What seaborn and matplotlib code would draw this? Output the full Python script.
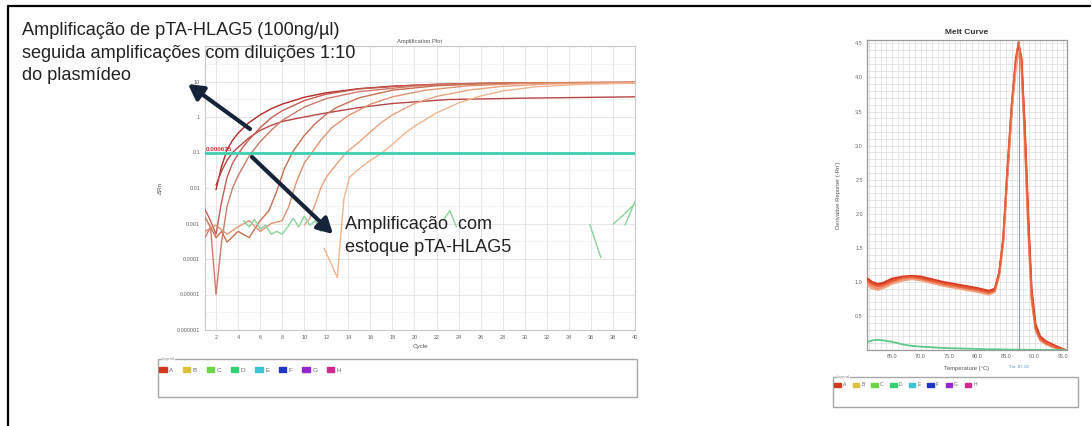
import numpy as np
import pandas as pd
import seaborn as sns
import matplotlib
matplotlib.use("Agg")
import matplotlib.pyplot as plt
from matplotlib.patches import Rectangle, Patch, FancyArrowPatch
from matplotlib.lines import Line2D
from matplotlib.ticker import FixedLocator, FixedFormatter

# ---------------- data: amplification plot ----------------
ampA1_cyc = [2, 2.5, 3, 3.5, 4, 5, 6, 7, 8, 10, 12, 15, 18, 22, 26, 30, 35, 40]
ampA1_val = [0.009, 0.04, 0.12, 0.22, 0.35, 0.7, 1.15, 1.7, 2.3, 3.6, 4.8, 6.3, 7.4, 8.3, 8.8, 9.1, 9.3, 9.4]
ampA2_cyc = [2, 2.5, 3, 3.5, 4, 5, 6, 7, 8, 10, 12, 15, 18, 23, 30, 40]
ampA2_val = [0.012, 0.03, 0.06, 0.1, 0.14, 0.26, 0.42, 0.58, 0.75, 1.0, 1.3, 1.85, 2.4, 3.1, 3.4, 3.7]
ampA3_cyc = [1, 1.5, 2, 2.5, 3, 3.5, 4, 4.5, 5, 6, 7, 8, 10, 12, 15, 20, 25, 30, 40]
ampA3_val = [0.0025, 0.0012, 0.0005, 0.004, 0.02, 0.05, 0.09, 0.15, 0.23, 0.5, 0.95, 1.5, 2.9, 4.4, 6.2, 7.9, 8.8, 9.2, 9.5]
ampA4_cyc = [1, 1.5, 2, 2.5, 3, 3.5, 4, 5, 6, 7, 8, 10, 12, 15, 20, 25, 30, 40]
ampA4_val = [0.0004, 0.0008, 0.00001, 0.0003, 0.003, 0.01, 0.022, 0.08, 0.2, 0.42, 0.8, 1.9, 3.3, 5.2, 7.4, 8.5, 9.0, 9.3]
ampA5_cyc = [1, 1.5, 2, 2.5, 3, 4, 5, 6, 6.8, 7.5, 8.2, 9, 10, 11, 12, 13, 15, 18, 22, 26, 30, 40]
ampA5_val = [0.0015, 0.0008, 0.0004, 0.0006, 0.0003, 0.0006, 0.0004, 0.0012, 0.0023, 0.008, 0.035, 0.11, 0.3,
             0.65, 1.2, 1.9, 3.5, 5.7, 7.6, 8.6, 9.1, 9.4]
ampA6_cyc = [1, 2, 3, 4, 5, 6, 7, 8, 8.6, 9.3, 10, 10.7, 11.5, 12.5, 14, 16, 18, 21, 25, 30, 40]
ampA6_val = [0.0006, 0.0009, 0.0005, 0.0008, 0.0012, 0.0006, 0.001, 0.0012, 0.003, 0.015, 0.05, 0.1, 0.22, 0.5,
             1.1, 2.3, 3.7, 5.7, 7.6, 8.8, 9.3]
ampA7_cyc = [10, 10.5, 11, 11.5, 12, 13, 13.8, 15, 16, 17, 18, 20, 22, 25, 28, 32, 40]
ampA7_val = [0.0009, 0.0014, 0.0035, 0.01, 0.02, 0.05, 0.1, 0.2, 0.38, 0.7, 1.15, 2.4, 3.8, 5.8, 7.3, 8.5, 9.3]
ampA8_cyc = [11.8, 12.4, 13, 13.3, 13.6, 14.1, 15, 16, 17, 18, 19, 20, 22, 24, 26, 28, 31, 35, 40]
ampA8_val = [0.0002, 0.00008, 0.00003, 0.0004, 0.005, 0.02, 0.035, 0.06, 0.095, 0.17, 0.32, 0.55, 1.3, 2.5,
             3.9, 5.4, 7.1, 8.3, 9.0]
green1_cyc = [4.5, 5, 5.5, 6, 6.5, 7, 7.5, 8, 8.5, 9, 9.5, 10, 10.5, 11, 11.5, 12]
green1_val = [0.0012, 0.0008, 0.0013, 0.0007, 0.0009, 0.0005, 0.0006, 0.0005, 0.0008, 0.0014, 0.0008, 0.0016,
              0.0009, 0.0012, 0.0006, 0.0008]
green2_cyc = [22.6, 23.2, 23.8]
green2_val = [0.0012, 0.0023, 0.0008]
green3_cyc = [35.9, 36.9]
green3_val = [0.00095, 0.00011]
green4_cyc = [38.0, 39.0, 39.9]
green4_val = [0.00095, 0.0018, 0.0034]
green5_cyc = [39.1, 40.0]
green5_val = [0.0009, 0.0042]
amp_colors = ["#b52828", "#b84444", "#c85a50", "#d07a6a", "#c8704f", "#e09270", "#e8a27c", "#f0b48c"]
threshold = 0.1
threshold_label = "0.000675"
amp_yticks = [1e-6, 1e-5, 1e-4, 1e-3, 1e-2, 1e-1, 1, 10]
amp_yticklabels = ["0.000001", "0.00001", "0.0001", "0.001", "0.01", "0.1", "1", "10"]
amp_xticks = list(range(2, 41, 2))

# ---------------- data: melt curve ----------------
melt_temp = [60.7, 61.5, 62.5, 63.5, 65, 67, 68.5, 70, 72, 74, 76, 78, 80, 82, 83, 83.8, 84.5, 85.2, 86, 86.7,
             87.2, 87.7, 88.3, 88.9, 89.5, 90.2, 91, 92, 93, 94, 95.5]
melt_a = [1.03, 0.98, 0.95, 0.97, 1.03, 1.07, 1.08, 1.06, 1.02, 0.98, 0.95, 0.92, 0.89, 0.85, 0.89, 1.15, 1.65,
          2.6, 3.6, 4.25, 4.5, 4.25, 3.2, 1.9, 0.8, 0.33, 0.17, 0.1, 0.06, 0.03, 0.0]
melt_b = [0.98, 0.93, 0.90, 0.93, 0.99, 1.04, 1.05, 1.03, 0.99, 0.95, 0.92, 0.89, 0.86, 0.82, 0.86, 1.1, 1.6,
          2.55, 3.55, 4.15, 4.42, 4.2, 3.1, 1.8, 0.75, 0.3, 0.15, 0.09, 0.05, 0.02, 0.0]
melt_c = [1.05, 1.0, 0.97, 0.99, 1.05, 1.08, 1.09, 1.08, 1.04, 1.0, 0.97, 0.94, 0.91, 0.87, 0.9, 1.12, 1.6,
          2.5, 3.5, 4.2, 4.48, 4.3, 3.3, 2.0, 0.9, 0.38, 0.2, 0.13, 0.09, 0.05, 0.0]
melt_d = [0.95, 0.9, 0.88, 0.91, 0.97, 1.02, 1.04, 1.02, 0.98, 0.94, 0.91, 0.88, 0.85, 0.81, 0.85, 1.08, 1.55,
          2.5, 3.5, 4.1, 4.38, 4.15, 3.0, 1.7, 0.7, 0.28, 0.14, 0.08, 0.05, 0.02, 0.0]
melt_e = [1.01, 0.96, 0.93, 0.95, 1.01, 1.06, 1.07, 1.05, 1.01, 0.97, 0.94, 0.91, 0.88, 0.84, 0.87, 1.12, 1.62,
          2.62, 3.62, 4.28, 4.52, 4.28, 3.15, 1.85, 0.78, 0.31, 0.16, 0.1, 0.06, 0.03, 0.0]
melt_green = [0.12, 0.14, 0.15, 0.14, 0.12, 0.08, 0.06, 0.05, 0.04, 0.03, 0.025, 0.02, 0.015, 0.01, 0.01, 0.01,
              0.008, 0.006, 0.005, 0.005, 0.005, 0.004, 0.004, 0.003, 0.003, 0.002, 0.002, 0.001, 0.001, 0.0, 0.0]
melt_colors = ["#e04a28", "#f08a66", "#d83a24", "#f4a07e", "#e8603a"]
melt_tm = 87.2
melt_tm_label = "Tm: 87.18"
melt_xticks = [65, 70, 75, 80, 85, 90, 95]
melt_xticklabels = ["65.0", "70.0", "75.0", "80.0", "85.0", "90.0", "95.0"]
melt_yticks = [0.5, 1.0, 1.5, 2.0, 2.5, 3.0, 3.5, 4.0, 4.5]
melt_yticklabels = ["0.5", "1.0", "1.5", "2.0", "2.5", "3.0", "3.5", "4.0", "4.5"]

# ---------------- legend data ----------------
well_labels = ["A", "B", "C", "D", "E", "F", "G", "H"]
well_colors = ["#d23a1e", "#dcc23a", "#6cd446", "#34d074", "#3cc4d4", "#2234c4", "#9424d4", "#d42890"]

# ---------------- annotation text ----------------
note1_lines = ["Amplificação de pTA-HLAG5 (100ng/µl)", "seguida amplificações com diluições 1:10", "do plasmídeo"]
note2_lines = ["Amplificação  com", "estoque pTA-HLAG5"]

# ---------------- figure ----------------
sns.set_style("white")
plt.rcParams["font.family"] = ["Liberation Sans", "DejaVu Sans"]

W, H = 1092, 426
fig = plt.figure(figsize=(W / 100, H / 100), dpi=100)
fig.patch.set_facecolor("white")


def fx(px):
    return px / W


def fy(py):
    return 1 - py / H


# frame lines
fig.add_artist(Line2D([fx(8), fx(8)], [0, fy(6)], transform=fig.transFigure, color="black", lw=1.6))
fig.add_artist(Line2D([fx(8), fx(1090)], [fy(6), fy(6)], transform=fig.transFigure, color="black", lw=1.6))

# ---------- amplification axes ----------
ax = fig.add_axes([fx(205), fy(330), fx(635) - fx(205), fy(46) - fy(330)])
ax.set_yscale("log")

rows = []
amp_sets = [(ampA1_cyc, ampA1_val), (ampA2_cyc, ampA2_val), (ampA3_cyc, ampA3_val), (ampA4_cyc, ampA4_val),
            (ampA5_cyc, ampA5_val), (ampA6_cyc, ampA6_val), (ampA7_cyc, ampA7_val), (ampA8_cyc, ampA8_val)]
for i, (c, v) in enumerate(amp_sets):
    for cc, vv in zip(c, v):
        rows.append({"cycle": cc, "dRn": vv, "curve": f"A{i+1}", "seg": f"A{i+1}"})
green_sets = [(green1_cyc, green1_val), (green2_cyc, green2_val), (green3_cyc, green3_val),
              (green4_cyc, green4_val), (green5_cyc, green5_val)]
for j, (c, v) in enumerate(green_sets):
    for cc, vv in zip(c, v):
        rows.append({"cycle": cc, "dRn": vv, "curve": "D", "seg": f"D{j}"})
amp_df = pd.DataFrame(rows)
pal = {f"A{i+1}": amp_colors[i] for i in range(8)}
pal["D"] = "#8ad49c"

sns.lineplot(data=amp_df, x="cycle", y="dRn", hue="curve", units="seg", estimator=None, sort=False,
             palette=pal, legend=False, lw=1.0, ax=ax, zorder=3)

ax.axhline(threshold, color="#3ccfb0", lw=2.0, zorder=4)
ax.text(1.1, threshold * 1.18, threshold_label, color="#d03030", fontsize=4.5, fontweight="bold",
        va="center", ha="left", zorder=5)

ax.set_xlim(1, 40)
ax.set_ylim(1e-6, 100)
ax.yaxis.set_major_locator(FixedLocator(amp_yticks))
ax.yaxis.set_major_formatter(FixedFormatter(amp_yticklabels))
ax.yaxis.set_minor_locator(FixedLocator([10 ** (k + 0.5) for k in range(-6, 2)]))
ax.set_xticks(amp_xticks)
ax.set_xticklabels([str(t) for t in amp_xticks])
ax.tick_params(axis="both", which="both", labelsize=4, colors="#666666", length=1.5, width=0.5, pad=2)
ax.tick_params(axis="y", which="minor", length=0)
ax.grid(True, which="major", color="#e2e2e2", lw=0.6)
ax.grid(True, which="minor", axis="y", color="#eeeeee", lw=0.5)
for s in ax.spines.values():
    s.set_color("#c8c8c8")
    s.set_linewidth(0.8)
ax.set_xlabel("Cycle", fontsize=4.5, color="#555555", labelpad=3)
ax.set_ylabel("ΔRn", fontsize=4.5, color="#555555", labelpad=10)
ax.set_title("Amplification Plot", fontsize=4.2, color="#555555", pad=2)
ax.set_facecolor("white")

# ---------- melt axes ----------
mx = fig.add_axes([fx(867), fy(350), fx(1067) - fx(867), fy(40) - fy(350)])
mrows = []
for k, arr in enumerate([melt_a, melt_b, melt_c, melt_d, melt_e]):
    for t, v in zip(melt_temp, arr):
        mrows.append({"temp": t, "deriv": v, "curve": f"M{k}"})
for t, v in zip(melt_temp, melt_green):
    mrows.append({"temp": t, "deriv": v, "curve": "G"})
melt_df = pd.DataFrame(mrows)
mpal = {f"M{k}": melt_colors[k] for k in range(5)}
mpal["G"] = "#5cc88a"
sns.lineplot(data=melt_df, x="temp", y="deriv", hue="curve", estimator=None, sort=False, palette=mpal,
             legend=False, lw=1.3, ax=mx, zorder=3)
mx.axvline(melt_tm, color="#8a9ab0", lw=0.8, zorder=4)
mx.set_xlim(60.6, 95.7)
mx.set_ylim(0, 4.55)
mx.set_xticks(melt_xticks)
mx.set_xticklabels(melt_xticklabels)
mx.set_yticks(melt_yticks)
mx.set_yticklabels(melt_yticklabels)
mx.xaxis.set_minor_locator(FixedLocator(np.arange(61, 96, 1)))
mx.yaxis.set_minor_locator(FixedLocator(np.arange(0.1, 4.55, 0.1)))
mx.grid(True, which="both", color="#dcdcdc", lw=0.5)
mx.tick_params(axis="both", which="both", labelsize=4.0, colors="#666666", length=0, pad=3)
for s in mx.spines.values():
    s.set_color("#9a9a9a")
    s.set_linewidth(0.9)
mx.set_xlabel("Temperature (°C)", fontsize=4.2, color="#555555", labelpad=5)
mx.set_ylabel("Derivative Reporter (-Rn')", fontsize=4.2, color="#555555", labelpad=10)
mx.set_title("Melt Curve", fontsize=6, fontweight="bold", color="#333333", pad=4)
mx.text(melt_tm, -0.22, melt_tm_label, fontsize=3.2, color="#5a8ad0", ha="center", va="top")

# ---------- legend boxes ----------
def legend_box(x0, y0, x1, y1, anchor, fsize, colsp, hlen):
    fig.add_artist(Rectangle((fx(x0), fy(y1)), fx(x1) - fx(x0), fy(y0) - fy(y1), transform=fig.transFigure,
                             facecolor="white", edgecolor="#a8a8a8", lw=1.0))
    fig.text(fx(x0 + 4), fy(y0), "Legend", fontsize=2.8, color="#888888", va="center", ha="left",
             bbox=dict(facecolor="white", edgecolor="none", pad=0.3))
    handles = [Patch(facecolor=c, edgecolor=c) for c in well_colors]
    fig.legend(handles, well_labels, loc="center left", bbox_to_anchor=anchor, ncol=8, frameon=False,
               fontsize=fsize, handlelength=hlen, handleheight=0.9, handletextpad=0.4,
               columnspacing=colsp, borderpad=0, borderaxespad=0, labelcolor="#666666")


legend_box(158, 359, 637, 397, (fx(159), fy(370)), 4.5, 1.55, 1.2)
legend_box(833, 377, 1078, 407, (fx(834), fy(385)), 3.6, 1.35, 1.3)

# ---------- annotations ----------
for k, line in enumerate(note1_lines):
    fig.text(fx(22), fy(35 + 22.6 * k), line, fontsize=13.1, color="#222222", va="baseline", ha="left")
for k, line in enumerate(note2_lines):
    fig.text(fx(345), fy(229 + 22.6 * k), line, fontsize=13.1, color="#222222", va="baseline", ha="left")
for (x_tail, y_tail), (x_head, y_head) in [((250, 129), (188, 84)), ((252, 157), (333, 234))]:
    fig.add_artist(FancyArrowPatch((fx(x_tail), fy(y_tail)), (fx(x_head), fy(y_head)),
                                   transform=fig.transFigure,
                                   arrowstyle="-|>,head_length=0.9,head_width=0.5", mutation_scale=10,
                                   lw=3.0, color="#16243a", shrinkA=0, shrinkB=0, zorder=10))

fig.savefig("out.png", dpi=100, facecolor="white")
